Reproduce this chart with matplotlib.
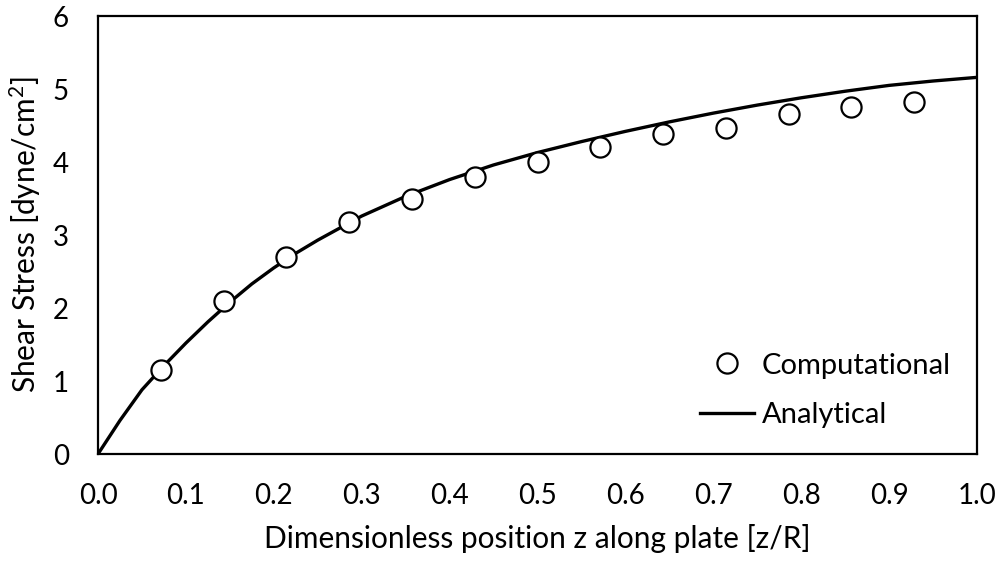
import matplotlib
matplotlib.use("Agg")
import matplotlib.pyplot as plt

plt.rcParams['font.family'] = ['Lato', 'DejaVu Sans']
plt.rcParams['mathtext.fontset'] = 'custom'
plt.rcParams['mathtext.rm'] = 'Lato'
plt.rcParams['mathtext.it'] = 'Lato:italic'

# Computational points
comp_x = [0.0714, 0.1429, 0.2143, 0.2857, 0.3571, 0.4286, 0.5, 0.5714,
          0.6429, 0.7143, 0.7857, 0.8571, 0.9286]
comp_y = [1.15, 2.10, 2.70, 3.18, 3.50, 3.80, 4.00, 4.20, 4.39, 4.47, 4.66, 4.76, 4.82]

# Analytical curve
ana_x = [0.0, 0.025, 0.05, 0.075, 0.1, 0.125, 0.15, 0.175, 0.2, 0.225,
         0.25, 0.3, 0.35, 0.4, 0.45, 0.5, 0.55, 0.6, 0.65, 0.7,
         0.75, 0.8, 0.85, 0.9, 0.95, 1.0]
ana_y = [0.0, 0.46, 0.88, 1.21, 1.52, 1.81, 2.08, 2.33, 2.55, 2.75,
         2.93, 3.26, 3.53, 3.76, 3.96, 4.13, 4.28, 4.42, 4.55, 4.67,
         4.78, 4.88, 4.97, 5.05, 5.11, 5.16]

xticks = [0.0, 0.1, 0.2, 0.3, 0.4, 0.5, 0.6, 0.7, 0.8, 0.9, 1.0]
yticks = [0, 1, 2, 3, 4, 5, 6]

FS = 20
LFS = 21.5

fig = plt.figure(figsize=(10, 5.61), dpi=100)
ax = fig.add_axes([0.098, 0.1907, 0.879, 0.7807])

ax.plot(comp_x, comp_y, linestyle='none', marker='o', markersize=14.5,
        markerfacecolor='white', markeredgecolor='black', markeredgewidth=1.6,
        label='Computational', zorder=3)
ax.plot(ana_x, ana_y, color='black', linewidth=2.4, label='Analytical', zorder=2,
        solid_joinstyle='round')

ax.set_xlim(0, 1)
ax.set_ylim(0, 6)
ax.set_xticks(xticks)
ax.set_xticklabels([f"{t:.1f}" for t in xticks])
ax.set_yticks(yticks)
ax.set_yticklabels([str(t) for t in yticks])
ax.tick_params(axis='x', length=0, labelsize=FS, pad=21)
ax.tick_params(axis='y', length=0, labelsize=FS, pad=21)

for s in ax.spines.values():
    s.set_linewidth(1.6)
    s.set_color('black')

ax.set_xlabel('Dimensionless position z along plate [z/R]', fontsize=LFS, labelpad=11)
ax.set_ylabel(r'Shear Stress [dyne/cm$^\mathregular{2}$]', fontsize=LFS, labelpad=7)

leg = ax.legend(loc='lower left', frameon=False, fontsize=21,
                bbox_to_anchor=(0.662, 0.013), handlelength=1.85,
                handletextpad=0.25, labelspacing=0.8, borderpad=0.2)

fig.savefig('out.png', dpi=100)
